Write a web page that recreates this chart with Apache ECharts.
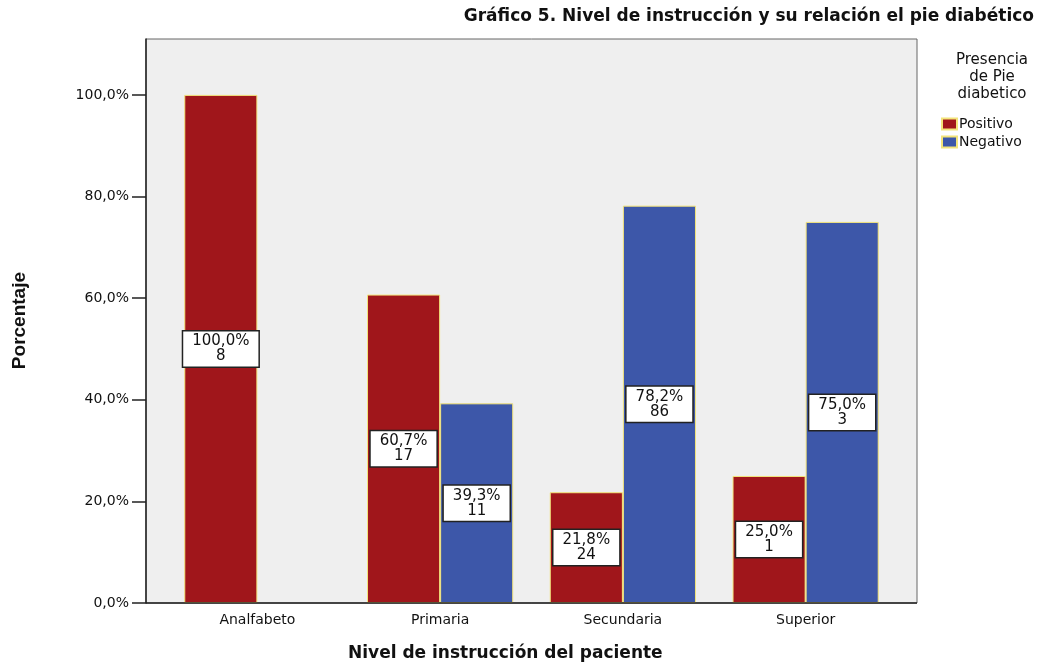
<!DOCTYPE html>
<html>
<head>
<meta charset="utf-8">
<script src="https://cdn.jsdelivr.net/npm/echarts@6/dist/echarts.min.js"></script>
<style>
  html, body { margin: 0; padding: 0; background: #fff; }
  #chart { width: 1051px; height: 664px; }
</style>
</head>
<body>
<div id="chart"></div>
<script>
  // datos
  const categories = ['Analfabeto', 'Primaria', 'Secundaria', 'Superior']
  const positivoPct = [100.0, 60.7, 21.8, 25.0]
  const negativoPct = [null, 39.3, 78.2, 75.0]
  const positivoN = [8, 17, 24, 1]
  const negativoN = [null, 11, 86, 3]
  const yTicks = [0, 20, 40, 60, 80, 100]

  const fmtPct = v => v.toFixed(1).replace('.', ',') + '%'
  const FONT = 'DejaVu Sans, Verdana, sans-serif'

  let myChart = echarts.init(document.getElementById('chart'))

  const labelStyle = counts => ({
    show: true,
    position: 'inside',
    backgroundColor: '#fff',
    borderColor: '#222',
    borderWidth: 1.5,
    padding: [3, 9, 2, 9],
    color: '#111',
    fontFamily: FONT,
    fontSize: 15,
    lineHeight: 15,
    formatter: p => fmtPct(p.value) + '\n' + counts[p.dataIndex]
  })

  let option = {
    animation: false,
    title: [{
      text: 'Gráfico 5. Nivel de instrucción y su relación el pie diabético',
      right: 12, top: 3,
      textStyle: { fontFamily: FONT, fontWeight: 'bold', fontSize: 17, color: '#111' }
    }, {
      text: 'Nivel de instrucción del paciente',
      left: 343, top: 640,
      textStyle: { fontFamily: FONT, fontWeight: 'bold', fontSize: 17, color: '#111' }
    }, {
      text: 'Presencia\nde Pie\ndiabetico',
      left: 987, top: 47, textAlign: 'center',
      textStyle: { fontFamily: FONT, fontWeight: 'normal', fontSize: 15, lineHeight: 17, color: '#111' }
    }],
    legend: {
      orient: 'vertical',
      left: 936, top: 112,
      itemWidth: 15, itemHeight: 11, itemGap: 4,
      icon: 'rect',
      textStyle: { fontFamily: FONT, fontSize: 14, color: '#111', padding: [0, 0, 0, -3] },
      data: ['Positivo', 'Negativo']
    },
    graphic: [{
      type: 'text',
      left: 10, top: 272,
      rotation: Math.PI / 2,
      style: { text: 'Porcentaje', fontFamily: 'Liberation Sans, Arial', fontWeight: 'bold', fontSize: 19, fill: '#111' }
    }],
    grid: [
      { left: 146, right: 134, top: 39, bottom: 61, show: true, backgroundColor: '#efefef', borderColor: '#666', borderWidth: 1 },
      { left: 166, right: 154, top: 39, bottom: 61 }
    ],
    xAxis: [
      { gridIndex: 0, type: 'value', show: false, min: 0, max: 1 },
      {
        gridIndex: 1, type: 'category', data: categories,
        axisLine: { show: false },
        axisTick: { alignWithLabel: true, length: 6, lineStyle: { color: '#222', width: 1.5 } },
        axisLabel: { fontFamily: FONT, fontSize: 14, color: '#111', margin: 10 }
      }
    ],
    yAxis: [
      {
        gridIndex: 0, type: 'value', min: 0, max: 111, interval: 20,
        axisLine: { show: true, lineStyle: { color: '#222', width: 1.5 } },
        axisTick: { show: true, length: 14, customValues: yTicks, lineStyle: { color: '#222', width: 1.5 } },
        axisLabel: { customValues: yTicks, fontFamily: FONT, fontSize: 14, color: '#111', margin: 17, formatter: v => fmtPct(v) },
        splitLine: { show: false }
      },
      { gridIndex: 1, type: 'value', min: 0, max: 111, show: false, splitLine: { show: false } }
    ],
    series: [{
      name: 'Positivo', type: 'bar', xAxisIndex: 1, yAxisIndex: 1,
      data: positivoPct,
      barGap: '0%', barCategoryGap: '20%',
      itemStyle: { color: '#a0161b', borderColor: '#f3e47a', borderWidth: 1 },
      label: labelStyle(positivoN)
    }, {
      name: 'Negativo', type: 'bar', xAxisIndex: 1, yAxisIndex: 1,
      data: negativoPct,
      itemStyle: { color: '#3d57a9', borderColor: '#f3e47a', borderWidth: 1 },
      label: labelStyle(negativoN)
    }, {
      // linea del eje x en la parte inferior
      type: 'line', xAxisIndex: 0, yAxisIndex: 0, data: [], silent: true,
      markLine: { symbol: 'none', silent: true, label: { show: false }, lineStyle: { color: '#222', width: 1.5, type: 'solid' }, data: [{ yAxis: 0 }] }
    }]
  }
  myChart.setOption(option)
</script>
</body>
</html>
